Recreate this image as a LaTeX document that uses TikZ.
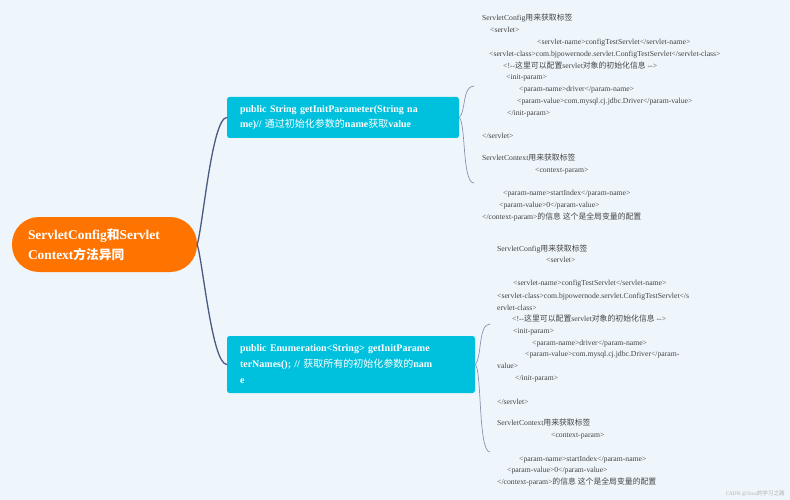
\documentclass[tikz,border=0pt]{standalone}
\usepackage{fontspec}
\setmainfont{Liberation Serif}
\newfontfamily\cjkA[Scale=1.02]{Noto Sans CJK SC}
\newfontfamily\cjkB[Scale=1.0]{Noto Sans CJK SC}
\newfontfamily\cjkC[Scale=0.95]{Noto Sans CJK SC}
\newcommand\za[1]{{\cjkA #1}}
\newcommand\zb[1]{{\cjkB #1}}
\newcommand\zc[1]{{\cjkC #1}}
\definecolor{bgc}{HTML}{EEF6FC}
\definecolor{rootc}{HTML}{FF7300}
\definecolor{nodec}{HTML}{00C1DD}
\definecolor{linec}{HTML}{4B5A80}
\definecolor{brc}{HTML}{8893AE}
\definecolor{txtc}{HTML}{444444}
\tikzset{
  rootbox/.style={draw=none, fill=rootc, rounded corners=27pt, minimum width=185pt, minimum height=55pt,
    inner xsep=16pt, inner ysep=0pt, text width=153pt, align=left, text=white,
    font=\fontsize{13.4}{20}\selectfont\bfseries},
  subbox/.style={draw=none, fill=nodec, rounded corners=2.5pt, inner xsep=13pt, inner ysep=0pt,
    align=left, text=white},
  line/.style={anchor=base west, inner sep=0pt, text=txtc, font=\fontsize{7.7}{9}\selectfont},
  branch/.style={draw=linec, line width=1.3pt, line cap=round},
  brace/.style={draw=brc, line width=0.7pt, line cap=round},
}
\begin{document}
\begin{tikzpicture}[x=1pt,y=-1pt]
\fill[bgc] (0,0) rectangle (790,500);
\useasboundingbox (0,0) rectangle (790,500);

\node[rootbox] (root) at (104.5,244.5) {ServletConfig\zc{和}Servlet\\Context\zc{方法异同}};
\node[subbox, minimum width=232pt, minimum height=41pt, text width=206pt,
  font=\fontsize{10}{15}\selectfont\bfseries] (n1) at (343,117.5)
  {public String getInitParameter(String na\\me)// \zb{\mdseries 通过初始化参数的}name\zb{\mdseries 获取}value};
\node[subbox, minimum width=248pt, minimum height=57pt, text width=222pt,
  font=\fontsize{10}{16}\selectfont\bfseries] (n2) at (351,364.5)
  {public Enumeration<String> getInitParame\\terNames(); // \zb{\mdseries 获取所有的初始化参数的}nam\\e};

\draw[branch] (root.east) .. controls (203,225) and (212,118) .. (n1.west);
\draw[branch] (root.east) .. controls (203,263) and (212,364) .. (n2.west);

% text block 1
\node[line] (a1) at (482,20.5) {ServletConfig\za{用来获取标签}};
\node[line] (a2) at (490,32.5) {<servlet>};
\node[line] (a3) at (537,44.5) {<servlet-name>configTestServlet</servlet-name>};
\node[line] (a4) at (489,56.5) {<servlet-class>com.bjpowernode.servlet.ConfigTestServlet</servlet-class>};
\node[line] (a5) at (503,68.5) {<!-{}-\za{这里可以配置}servlet\za{对象的初始化信息} -{}->};
\node[line] (a6) at (506,79.5) {<init-param>};
\node[line] (a7) at (519,91.5) {<param-name>driver</param-name>};
\node[line] (a8) at (517,103.5) {<param-value>com.mysql.cj.jdbc.Driver</param-value>};
\node[line] (a9) at (507,115.5) {</init-param>};
\node[line] (a10) at (482,138.5) {</servlet>};
\node[line] (a11) at (482,160.5) {ServletContext\za{用来获取标签}};
\node[line] (a12) at (535,172.5) {<context-param>};
\node[line] (a13) at (503,195.5) {<param-name>startIndex</param-name>};
\node[line] (a14) at (499,207.5) {<param-value>0</param-value>};
\node[line] (a15) at (482,219.5) {</context-param>\za{的信息 这个是全局变量的配置}};

% text block 2
\node[line] (b1) at (497,251.5) {ServletConfig\za{用来获取标签}};
\node[line] (b2) at (546,262.5) {<servlet>};
\node[line] (b3) at (513,285.5) {<servlet-name>configTestServlet</servlet-name>};
\node[line] (b4) at (497,298.5) {<servlet-class>com.bjpowernode.servlet.ConfigTestServlet</s};
\node[line] (b5) at (497,310.5) {ervlet-class>};
\node[line] (b6) at (512,321.5) {<!-{}-\za{这里可以配置}servlet\za{对象的初始化信息} -{}->};
\node[line] (b7) at (513,333.5) {<init-param>};
\node[line] (b8) at (532,345.5) {<param-name>driver</param-name>};
\node[line] (b9) at (525,356.5) {<param-value>com.mysql.cj.jdbc.Driver</param-};
\node[line] (b10) at (497,368.5) {value>};
\node[line] (b11) at (515,380.5) {</init-param>};
\node[line] (b12) at (497,404.5) {</servlet>};
\node[line] (b13) at (497,425.5) {ServletContext\za{用来获取标签}};
\node[line] (b14) at (551,437.5) {<context-param>};
\node[line] (b15) at (519,461.5) {<param-name>startIndex</param-name>};
\node[line] (b16) at (507,472.5) {<param-value>0</param-value>};
\node[line] (b17) at (497,484.5) {</context-param>\za{的信息 这个是全局变量的配置}};

% braces
\coordinate (t1) at (474,86);
\coordinate (u1) at (474,183);
\coordinate (t2) at (490,324);
\coordinate (u2) at (490,452);
\draw[brace] (n1.east) .. controls (466,112) and (462,86) .. (t1);
\draw[brace] (n1.east) .. controls (466,123) and (462,183) .. (u1);
\draw[brace] (n2.east) .. controls (482,358) and (478,324) .. (t2);
\draw[brace] (n2.east) .. controls (482,370) and (478,452) .. (u2);

\node[anchor=base east, inner sep=0pt, text=black!30, font=\fontsize{5.5}{6}\selectfont] (wm) at (785,495)
  {CSDN @Java\za{的学习之路}};
\end{tikzpicture}
\end{document}
